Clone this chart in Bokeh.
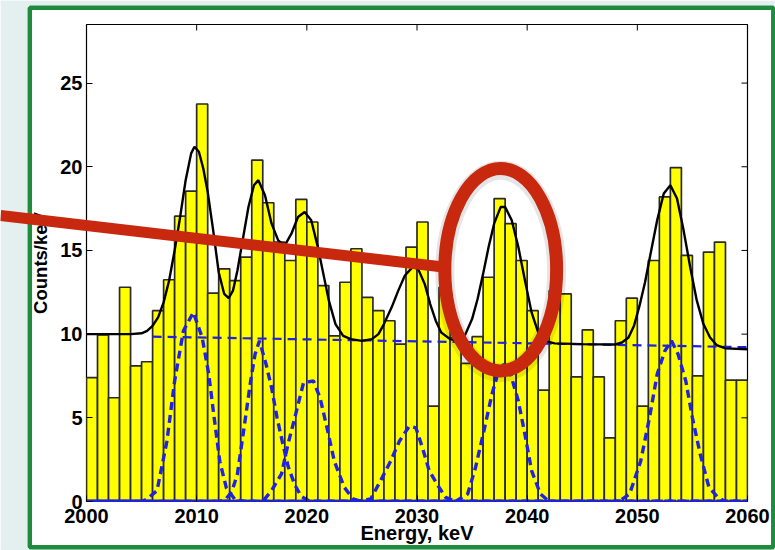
from bokeh.plotting import figure
from bokeh.models import Range1d, FixedTicker, GridBox, Column
from bokeh.embed import file_html
from bokeh.resources import INLINE

# ---------------- data ----------------
bin_start = list(range(2000, 2060))
counts = [7.4, 9.95, 6.2, 12.8, 8.1, 8.35, 11.4, 13.25, 17.05, 18.55,
          23.75, 12.45, 13.9, 13.2, 14.6, 20.4, 17.85, 15.5, 14.4, 18.05,
          16.7, 12.9, 9.9, 13.1, 15.1, 12.2, 11.4, 10.8, 9.4, 15.2,
          16.7, 5.7, 12.8, 9.8, 8.25, 9.85, 13.4, 18.1, 16.6, 14.4,
          11.4, 6.65, 12.6, 12.4, 7.45, 10.25, 7.45, 3.8, 10.8, 12.15,
          5.7, 14.4, 18.2, 19.95, 14.7, 7.5, 14.9, 15.5, 7.25, 7.25]

fit_energy = [2000.0, 2002.0, 2004.0, 2005.0, 2005.5, 2006.0, 2006.5, 2007.0, 2007.5, 2008.0,
              2008.5, 2009.0, 2009.5, 2009.8, 2010.2, 2010.6, 2011.0, 2011.5, 2012.0, 2012.5,
              2012.9, 2013.3, 2013.7, 2014.2, 2014.7, 2015.2, 2015.6, 2016.2, 2016.8, 2017.4,
              2018.0, 2018.6, 2019.2, 2019.8, 2020.4, 2021.0, 2021.5, 2022.0, 2022.6, 2023.3,
              2024.0, 2025.0, 2025.9, 2026.5, 2027.0, 2027.7, 2028.3, 2028.9, 2029.6, 2030.1,
              2030.7, 2031.2, 2031.7, 2032.2, 2033.0, 2033.8, 2034.4, 2035.0, 2035.5, 2036.0,
              2036.5, 2037.0, 2037.6, 2038.0, 2038.6, 2039.2, 2039.8, 2040.4, 2041.0, 2041.6,
              2042.5, 2045.0, 2048.0, 2048.6, 2049.2, 2049.7, 2050.2, 2050.7, 2051.2, 2051.8,
              2052.4, 2053.0, 2053.6, 2054.2, 2054.8, 2055.4, 2056.0, 2056.6, 2057.2, 2058.0,
              2060.0]
fit_total = [10.0, 10.0, 10.0, 10.05, 10.2, 10.5, 11.0, 11.9, 13.2, 15.0,
             17.0, 19.2, 20.8, 21.2, 20.9, 19.9, 18.5, 16.2, 13.7, 12.4,
             12.15, 12.6, 13.8, 15.7, 17.6, 18.9, 19.2, 18.3, 16.6, 15.6,
             15.3, 16.0, 17.0, 17.3, 16.8, 15.2, 13.6, 12.0, 10.6, 9.9,
             9.7, 9.6, 9.7, 10.0, 10.6, 11.6, 12.6, 13.5, 14.0, 13.9,
             13.0, 11.8, 10.8, 10.1, 9.7, 9.6, 10.0, 10.9, 12.1, 13.6,
             15.2, 16.6, 17.6, 17.6, 16.8, 15.2, 13.2, 11.3, 10.1, 9.6,
             9.45, 9.4, 9.38, 9.5, 9.8, 10.5, 11.7, 13.1, 14.8, 16.8,
             18.4, 18.9, 18.1, 16.2, 14.0, 12.0, 10.6, 9.8, 9.35, 9.15,
             9.1]

bg_energy = [2006.0, 2060.0]
bg_level = [9.85, 9.22]

peak1_energy = [2000.0, 2005.0, 2005.5, 2006.4, 2007.3, 2008.0, 2008.8, 2009.7, 2010.5, 2011.1,
                2011.55, 2012.1, 2012.7, 2013.5, 2014.5, 2060.0]
peak1_level = [0, 0, 0.15, 0.65, 3.6, 7.2, 10.2, 11.3, 9.8, 7.6,
               5.2, 2.4, 0.8, 0.1, 0, 0]
peak2_energy = [2000.0, 2012.0, 2012.6, 2013.2, 2013.7, 2014.3, 2014.9, 2015.3, 2015.7, 2016.3,
                2016.8, 2017.3, 2017.8, 2018.3, 2018.9, 2019.5, 2020.3, 2060.0]
peak2_level = [0, 0, 0.1, 0.6, 1.65, 4.4, 7.2, 8.8, 9.6, 8.2,
               6.8, 5.0, 3.5, 2.1, 1.0, 0.3, 0, 0]
peak3_energy = [2000.0, 2016.0, 2016.8, 2017.7, 2018.3, 2019.0, 2019.7, 2020.6, 2021.2, 2021.9,
                2022.5, 2023.4, 2024.2, 2025.0, 2060.0]
peak3_level = [0, 0, 0.65, 1.65, 3.45, 5.25, 7.1, 7.2, 6.2, 4.2,
               2.4, 0.85, 0.15, 0, 0]
peak4_energy = [2000.0, 2024.5, 2025.8, 2026.7, 2027.6, 2028.4, 2029.3, 2029.9, 2030.5, 2031.1,
                2031.9, 2032.6, 2033.5, 2060.0]
peak4_level = [0, 0, 0.15, 1.25, 2.4, 3.6, 4.5, 4.4, 3.2, 1.85,
               0.95, 0.25, 0, 0]
peak5_energy = [2000.0, 2033.5, 2034.6, 2035.3, 2036.0, 2036.8, 2037.4, 2037.9, 2038.5, 2039.2,
                2039.8, 2040.4, 2041.2, 2042.0, 2060.0]
peak5_level = [0, 0, 0.45, 2.0, 4.0, 6.4, 7.8, 8.2, 7.6, 6.0,
               4.0, 1.85, 0.45, 0, 0]
peak6_energy = [2000.0, 2048.3, 2049.3, 2050.3, 2051.1, 2051.8, 2052.5, 2053.1, 2053.7, 2054.4,
                2055.0, 2055.7, 2056.5, 2057.3, 2058.0, 2060.0]
peak6_level = [0, 0, 0.45, 2.4, 5.0, 7.6, 9.0, 9.6, 8.8, 7.2,
               5.0, 2.85, 0.85, 0.25, 0, 0]

x_ticks = [2000, 2010, 2020, 2030, 2040, 2050, 2060]
y_ticks = [0, 5, 10, 15, 20, 25]

# highlighted peak (ellipse) in data units
highlight_energy = 2037.6
highlight_counts = 13.85
highlight_width_kev = 10.15
highlight_height_counts = 12.1

# ---------------- layout / style ----------------
W, H = 775, 550
F_LEFT, F_RIGHT, F_TOP, F_BOTTOM = 86, 747, 24, 501
X0, X1, Y0, Y1 = 2000, 2060, 0, 28.5
TICK_PX = 6


def px_to_x(px):
    return X0 + (px - F_LEFT) * (X1 - X0) / (F_RIGHT - F_LEFT)


def py_to_y(py):
    return Y0 + (F_BOTTOM - py) * (Y1 - Y0) / (F_BOTTOM - F_TOP)


PAGE_BG = "#e4eff0"
GREEN = "#1e8c3c"
RED = "#c8280e"
BLUE = "#1f22e6"
FONT = "Liberation Sans"

fig = figure(width=W, height=H, output_backend="svg", toolbar_location=None,
             x_range=Range1d(X0, X1), y_range=Range1d(Y0, Y1),
             min_border_left=F_LEFT, min_border_right=W - F_RIGHT,
             min_border_top=F_TOP, min_border_bottom=H - F_BOTTOM,
             border_fill_color="white", background_fill_color="white",
             outline_line_color="black", outline_line_width=1.2)
fig.grid.visible = False

xa = fig.xaxis[0]
ya = fig.yaxis[0]
for ax, ticks in ((xa, x_ticks), (ya, y_ticks)):
    ax.ticker = FixedTicker(ticks=ticks)
    ax.major_tick_in = TICK_PX
    ax.major_tick_out = 0
    ax.major_tick_line_color = "black"
    ax.minor_tick_in = 0
    ax.minor_tick_out = 0
    ax.major_label_text_font = FONT
    ax.major_label_text_font_style = "bold"
    ax.major_label_text_font_size = "20px"
    ax.major_label_text_color = "black"
    ax.axis_label_text_font = FONT
    ax.axis_label_text_font_style = "bold"
    ax.axis_label_text_color = "black"
    ax.axis_line_color = None
xa.axis_label = "Energy, keV"
xa.axis_label_text_font_size = "20px"
xa.major_label_standoff = 7
xa.axis_label_standoff = -4
ya.axis_label = "Counts/keV"
ya.axis_label_text_font_size = "18.5px"
ya.major_label_standoff = 4
ya.axis_label_standoff = 6

# histogram bars
bin_end = [b + 1 for b in bin_start]
fig.quad(left=bin_start, right=bin_end, bottom=0, top=counts,
         fill_color="#ffff00", line_color="#2a2a2a", line_width=1.7)

# inward ticks on the top and right edges of the box
tick_dx = TICK_PX * (X1 - X0) / (F_RIGHT - F_LEFT)
tick_dy = TICK_PX * (Y1 - Y0) / (F_BOTTOM - F_TOP)
fig.segment(x0=x_ticks, x1=x_ticks, y0=[Y1] * len(x_ticks), y1=[Y1 - tick_dy] * len(x_ticks),
            line_color="black", line_width=1)
fig.segment(x0=[X1] * len(y_ticks), x1=[X1 - tick_dx] * len(y_ticks), y0=y_ticks, y1=y_ticks,
            line_color="black", line_width=1)

# fit components (dashed blue)
components = [(peak1_energy, peak1_level), (peak2_energy, peak2_level),
              (peak3_energy, peak3_level), (peak4_energy, peak4_level),
              (peak5_energy, peak5_level), (peak6_energy, peak6_level)]
for i, (ex, ey) in enumerate(components):
    fig.line(ex, ey, line_color=BLUE, line_width=3.4, line_dash="8 5",
             line_dash_offset=2 * i)
fig.line(bg_energy, bg_level, line_color=BLUE, line_width=2.2, line_dash="9 6")

# total fit
fig.line(fit_energy, fit_total, line_color="black", line_width=2.4)

# highlight ellipse (with faint shadow)
fig.ellipse(x=[highlight_energy], y=[highlight_counts - 0.1], width=[highlight_width_kev],
            height=[highlight_height_counts], fill_alpha=0, line_color="#000000",
            line_alpha=0.10, line_width=19)
fig.ellipse(x=[highlight_energy], y=[highlight_counts], width=[highlight_width_kev],
            height=[highlight_height_counts], fill_alpha=0, line_color=RED, line_width=13)

# ---------------- transparent overlay for the page decorations ----------------
ov = figure(width=W, height=H, output_backend="svg", toolbar_location=None, title=None,
            x_range=Range1d(px_to_x(0), px_to_x(W)), y_range=Range1d(py_to_y(H), py_to_y(0)),
            x_axis_type=None, y_axis_type=None,
            min_border_left=0, min_border_right=0, min_border_top=0, min_border_bottom=0,
            border_fill_alpha=0, background_fill_alpha=0, outline_line_color=None)
ov.grid.visible = False

strip_left = [0, 0, 0]
strip_right = [27, W, W]
strip_top = [0, 0, 549]
strip_bottom = [H, 5, H]
ov.quad(left=[px_to_x(v) for v in strip_left], right=[px_to_x(v) for v in strip_right],
        top=[py_to_y(v) for v in strip_top], bottom=[py_to_y(v) for v in strip_bottom],
        fill_color=PAGE_BG, line_alpha=0)
ov.quad(left=[px_to_x(29.3)], right=[px_to_x(772.8)], top=[py_to_y(7.3)], bottom=[py_to_y(546.8)],
        fill_alpha=0, line_color=GREEN, line_width=4.5)
# pointer line to the highlighted peak
ov.line([px_to_x(0), px_to_x(447)], [py_to_y(215), py_to_y(267)],
        line_color=RED, line_width=11)

ov_box = Column(children=[ov], width=W, height=H)
p = GridBox(children=[(fig, 0, 0), (ov_box, 0, 0)], width=W, height=H)

open("out.html", "w").write(file_html(p, INLINE))
